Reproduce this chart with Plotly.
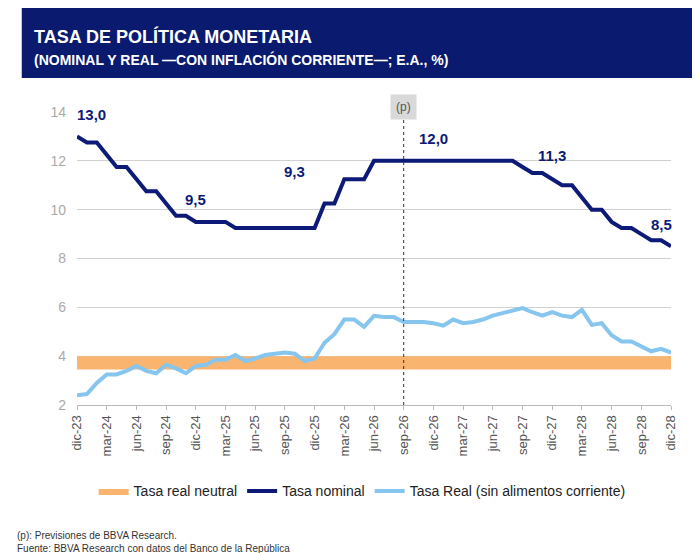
import plotly.graph_objects as go

meses = ["ene", "feb", "mar", "abr", "may", "jun", "jul", "ago", "sep", "oct", "nov", "dic"]
fechas = ["dic-23"] + [f"{m}-{a}" for a in range(24, 29) for m in meses]

tasa_nominal = [13.0, 12.75, 12.75, 12.25, 11.75, 11.75, 11.25, 10.75, 10.75, 10.25, 9.75, 9.75,
                9.5, 9.5, 9.5, 9.5, 9.25, 9.25, 9.25, 9.25, 9.25, 9.25, 9.25, 9.25,
                9.25, 10.25, 10.25, 11.25, 11.25, 11.25, 12.0, 12.0, 12.0, 12.0, 12.0, 12.0,
                12.0, 12.0, 12.0, 12.0, 12.0, 12.0, 12.0, 12.0, 12.0, 11.75, 11.5, 11.5,
                11.25, 11.0, 11.0, 10.5, 10.0, 10.0, 9.5, 9.25, 9.25, 9.0, 8.75, 8.75, 8.5]

tasa_real = [2.4, 2.45, 2.9, 3.25, 3.25, 3.4, 3.6, 3.4, 3.3, 3.65, 3.5, 3.3,
             3.6, 3.65, 3.85, 3.85, 4.05, 3.8, 3.9, 4.05, 4.1, 4.15, 4.1, 3.8,
             3.9, 4.55, 4.9, 5.5, 5.5, 5.2, 5.65, 5.6, 5.6, 5.4, 5.4, 5.4,
             5.35, 5.25, 5.5, 5.35, 5.4, 5.5, 5.66, 5.75, 5.87, 5.97, 5.8, 5.66,
             5.8, 5.66, 5.6, 5.9, 5.28, 5.35, 4.86, 4.6, 4.6, 4.4, 4.2, 4.3, 4.15]

neutral_bajo = 3.45
neutral_alto = 4.0

# texto, mes donde se coloca, valor
etiquetas = [("13,0", 1, 13.0), ("9,5", 12, 9.5), ("9,3", 22, 9.3),
             ("12,0", 36, 12.0), ("11,3", 48, 11.3), ("8,5", 59, 8.5)]

navy = "#0d1a78"
celeste = "#86c5ee"
naranja = "#f9b46f"

fig = go.Figure()

# banda tasa real neutral
fig.add_trace(go.Scatter(x=fechas, y=[neutral_bajo] * len(fechas), mode="lines",
                         line=dict(width=0), showlegend=False, hoverinfo="skip"))
fig.add_trace(go.Scatter(x=fechas, y=[neutral_alto] * len(fechas), mode="lines",
                         line=dict(width=0), fill="tonexty", fillcolor=naranja,
                         name="Tasa real neutral"))
fig.add_trace(go.Scatter(x=fechas, y=tasa_nominal, mode="lines",
                         line=dict(color=navy, width=4), name="Tasa nominal"))
fig.add_trace(go.Scatter(x=fechas, y=tasa_real, mode="lines",
                         line=dict(color=celeste, width=4),
                         name="Tasa Real (sin alimentos corriente)"))

for txt, i, v in etiquetas:
    shift = 55 if txt == "9,3" else 22
    fig.add_annotation(x=fechas[i], y=v, text=f"<b>{txt}</b>", showarrow=False,
                       yshift=shift, xshift=5 if i == 1 else 0,
                       font=dict(color=navy, size=15))

fig.add_shape(type="line", x0="sep-26", x1="sep-26", y0=2, y1=14.5, yref="y",
              line=dict(color="#333333", width=1, dash="dot"))
fig.add_annotation(x="sep-26", y=1.06, yref="paper", text="(p)", showarrow=False,
                   font=dict(color="#555555", size=12), bgcolor="#d9d9d9",
                   borderpad=5)

# cabecera
fig.add_shape(type="rect", xref="paper", yref="paper", x0=-0.093, x1=1.04, y0=1.116, y1=1.36,
              fillcolor="#0a1a6e", line=dict(width=0), layer="below")
fig.add_annotation(xref="paper", yref="paper", x=-0.075, y=1.30, xanchor="left", showarrow=False,
                   text="<b>TASA DE POLÍTICA MONETARIA</b>", font=dict(color="white", size=18))
fig.add_annotation(xref="paper", yref="paper", x=-0.075, y=1.215, xanchor="left", showarrow=False,
                   text="<b>(NOMINAL Y REAL —CON INFLACIÓN CORRIENTE—; E.A., %)</b>",
                   font=dict(color="white", size=14))
fig.add_annotation(xref="paper", yref="paper", x=-0.105, y=-0.42, xanchor="left", yanchor="top",
                   showarrow=False, align="left",
                   text="(p): Previsiones de BBVA Research.<br>Fuente: BBVA Research con datos del Banco de la República",
                   font=dict(color="#333333", size=10))

fig.update_layout(
    width=700, height=553,
    margin=dict(l=69, r=37, t=104, b=156),
    paper_bgcolor="white", plot_bgcolor="white",
    font=dict(family="Liberation Sans, Arial", color="#444444"),
    legend=dict(orientation="h", x=0.48, xanchor="center", y=-0.24, yanchor="top",
                traceorder="normal", font=dict(size=14, color="#222222")),
    xaxis=dict(type="category", range=[0, 60], tickvals=fechas[::3], ticktext=fechas[::3],
               tickangle=-90, showgrid=False, showline=True, linecolor="#bbbbbb", ticks="outside",
               ticklen=4, tickcolor="#bbbbbb", tickfont=dict(size=13, color="#555555")),
    yaxis=dict(range=[2, 14], dtick=2, showgrid=True, gridcolor="#d0d0d0",
               ticklabelstandoff=10,
               tickfont=dict(size=14, color="#aaaaaa"), zeroline=False),
    showlegend=True,
)

fig.write_html("out.html")
